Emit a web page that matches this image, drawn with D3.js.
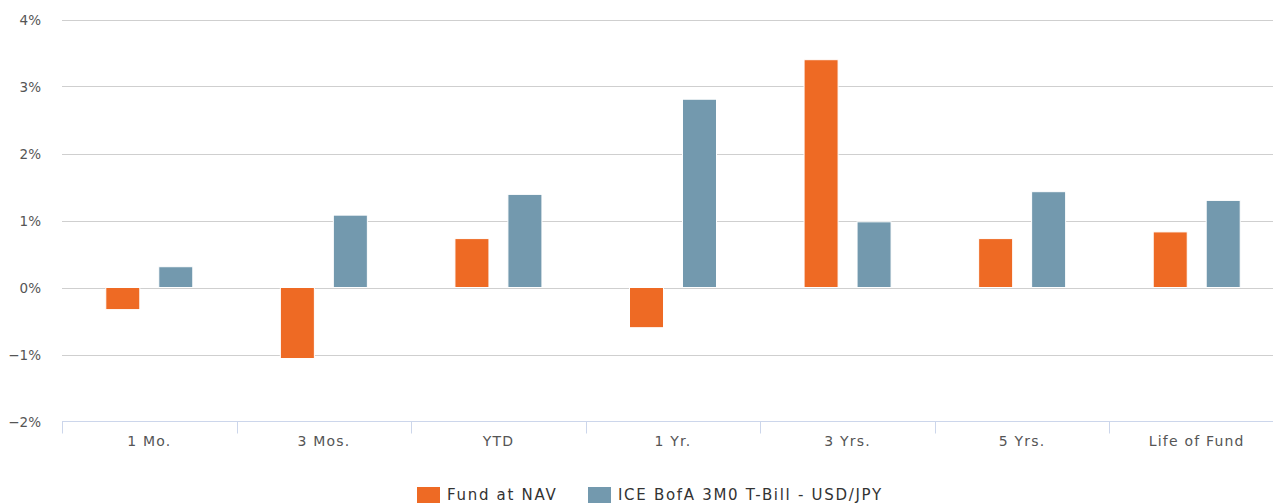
<!DOCTYPE html>
<html><head><meta charset="utf-8">
<script src="https://cdn.jsdelivr.net/npm/d3@7"></script>
<style>
html,body{margin:0;padding:0;background:#fff;overflow:hidden;}
text{font-family:"DejaVu Sans",sans-serif;fill:#555;}
</style></head>
<body><svg id="c" width="1273" height="503"></svg>
<script>
const categories = ["1 Mo.","3 Mos.","YTD","1 Yr.","3 Yrs.","5 Yrs.","Life of Fund"];
const seriesNames = ["Fund at NAV","ICE BofA 3M0 T-Bill - USD/JPY"];
const fundValues = [-0.33,-1.06,0.73,-0.60,3.40,0.73,0.83];
const benchValues = [0.31,1.08,1.39,2.81,0.98,1.43,1.30];
const yTicks = [-2,-1,0,1,2,3,4];
const colors = ["#EE6A24","#7399AE"];

(function(){
const svg = d3.select("#c");
const pL = 62, pR = 1284, pT = 19.5, pB = 421.5;
const x = d3.scaleBand().domain(categories).range([pL,pR]).padding(0);
const y = d3.scaleLinear().domain([-2,4]).range([pB,pT]);
const inner = d3.scaleBand().domain(seriesNames).range([-43.5,43.5]).paddingInner(0.358).paddingOuter(0);

svg.append("g").selectAll("line").data(yTicks.filter(t=>t>-2)).join("line")
  .attr("x1",pL).attr("x2",1273)
  .attr("y1",d=>Math.round(y(d))+0.5).attr("y2",d=>Math.round(y(d))+0.5)
  .attr("stroke","#cfcfcf").attr("stroke-width",1);

svg.append("g").selectAll("text").data(yTicks).join("text")
  .attr("x",41).attr("y",d=>y(d)+5)
  .attr("text-anchor","end").style("font-size","13.5px")
  .text(d=> (d<0?"\u2212":"")+Math.abs(d)+"%");

const data = [fundValues, benchValues];
data.forEach((vals,si)=>{
  svg.append("g").selectAll("rect").data(vals).join("rect")
    .attr("x",(d,i)=>x(categories[i])+x.bandwidth()/2+inner(seriesNames[si]))
    .attr("width",inner.bandwidth())
    .attr("y",d=>y(Math.max(0,d)))
    .attr("height",d=>Math.abs(y(d)-y(0)))
    .attr("fill",colors[si]).attr("stroke","#fff").attr("stroke-width",1);
});

const xa = svg.append("g");
xa.append("line").attr("x1",pL).attr("x2",1273).attr("y1",pB).attr("y2",pB)
  .attr("stroke","#ccd6eb").attr("stroke-width",1);
xa.selectAll("line.t").data(categories.concat(["_end"])).join("line").attr("class","t")
  .attr("x1",(d,i)=>Math.round(pL+i*x.step())+0.5).attr("x2",(d,i)=>Math.round(pL+i*x.step())+0.5)
  .attr("y1",pB).attr("y2",pB+12).attr("stroke","#ccd6eb");
xa.selectAll("text").data(categories).join("text")
  .attr("x",d=>x(d)+x.bandwidth()/2).attr("y",446)
  .attr("text-anchor","middle").style("font-size","14px").style("letter-spacing","1.2px")
  .text(d=>d);

const lg = svg.append("g");
const legendX = [417, 588];
seriesNames.forEach((n,i)=>{
  lg.append("rect").attr("x",legendX[i]).attr("y",487).attr("width",23).attr("height",17).attr("fill",colors[i]);
  lg.append("text").attr("x",legendX[i]+30).attr("y",500).style("font-size","15px").style("letter-spacing","1.7px")
    .style("fill","#333").text(n);
});
})();
</script></body></html>
